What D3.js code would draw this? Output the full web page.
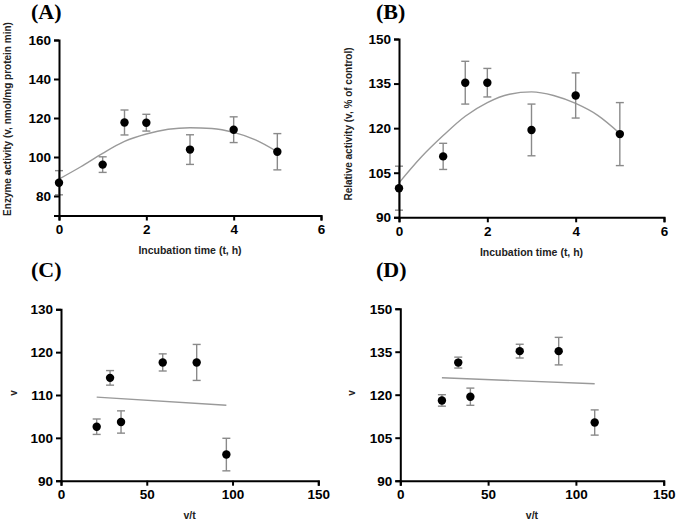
<!DOCTYPE html>
<html><head><meta charset="utf-8">
<script src="https://cdn.jsdelivr.net/npm/d3@7"></script>
<style>
body{margin:0;background:#fff;}
svg{display:block;}
</style></head><body>
<svg id="chart" width="676" height="523"></svg>
<script>
// ---- Data ----
const timeH = [0, 1, 1.5, 2, 3, 4, 5];
const activityA = [86.8, 96.1, 117.7, 117.6, 103.8, 114.0, 102.7];
const errA = [6.2, 4.0, 6.4, 4.3, 7.6, 6.6, 9.3];
const fitTimeA = [0, 0.5, 1, 1.5, 2, 2.5, 3, 3.5, 4, 4.5, 5];
const fitA = [88.7, 95.0, 101.9, 108.0, 111.8, 114.2, 115.0, 114.6, 112.6, 108.8, 102.7];

const relativeB = [99.8, 110.5, 135.3, 135.3, 119.4, 131.0, 118.0];
const errB = [7.4, 4.4, 7.2, 4.8, 8.7, 7.6, 10.6];
const fitTimeB = [0, 0.5, 1, 1.5, 2, 2.5, 3, 3.5, 4, 4.5, 5];
const fitB = [101.6, 110.2, 117.5, 124.0, 128.6, 131.4, 132.2, 131.0, 128.3, 124.3, 118.2];

const vtC = [20.8, 28.6, 35.0, 59.3, 79.1, 96.4];
const vC = [102.6, 114.0, 103.7, 117.6, 117.6, 96.1];
const errC = [1.8, 1.7, 2.6, 2.0, 4.2, 3.8];
const lineC = [[20.8, 109.5], [96.4, 107.6]];

const vtD = [23.7, 33.0, 39.9, 68.0, 90.2, 110.7];
const vD = [118.0, 131.2, 119.3, 135.2, 135.2, 110.3];
const errD = [2.0, 1.9, 3.0, 2.4, 4.8, 4.4];
const lineD = [[23.7, 125.9], [110.7, 123.8]];

const ticksA_y = [80, 100, 120, 140, 160];
const ticksB_y = [90, 105, 120, 135, 150];
const ticksC_y = [90, 100, 110, 120, 130];
const ticksD_y = [90, 105, 120, 135, 150];
const ticksTime = [0, 2, 4, 6];
const ticksVt = [0, 50, 100, 150];

const svg = d3.select("#chart");
const sans = '"Liberation Sans",Arial,sans-serif';

function panel(o) {
  const g = svg.append("g");
  const x = d3.scaleLinear().domain(o.xDomain).range(o.xRange);
  const y = d3.scaleLinear().domain(o.yDomain).range(o.yRange);

  // fit curve / line
  const line = d3.line().x(d => x(d[0])).y(d => y(d[1]))
    .curve(o.fit.length > 2 ? d3.curveMonotoneX : d3.curveLinear);
  g.append("path").datum(o.fit).attr("d", line)
    .attr("fill", "none").attr("stroke", "#9a9a9a").attr("stroke-width", 1.4);

  // error bars
  const eb = g.append("g").attr("stroke", "#8a8a8a").attr("stroke-width", 1.4).attr("fill", "none");
  o.xs.forEach((xv, i) => {
    const cx = x(xv), top = y(o.ys[i] + o.err[i]), bot = y(o.ys[i] - o.err[i]);
    eb.append("line").attr("x1", cx).attr("x2", cx).attr("y1", top).attr("y2", bot);
    eb.append("line").attr("x1", cx - 4).attr("x2", cx + 4).attr("y1", top).attr("y2", top);
    eb.append("line").attr("x1", cx - 4).attr("x2", cx + 4).attr("y1", bot).attr("y2", bot);
  });

  // axes
  const fmt = d3.format("d");
  const xa = g.append("g").attr("transform", `translate(0,${o.yRange[0]})`)
    .call(d3.axisBottom(x).tickValues(o.xTicks).tickFormat(fmt).tickSize(5).tickPadding(4));
  const ya = g.append("g").attr("transform", `translate(${o.xRange[0]},0)`)
    .call(d3.axisLeft(y).tickValues(o.yTicks).tickFormat(fmt).tickSize(5).tickPadding(3));
  [xa, ya].forEach(a => {
    a.attr("font-family", sans).attr("font-size", 13.5).attr("font-weight", "bold");
    a.select(".domain").attr("stroke", "#000").attr("stroke-width", 2);
    a.selectAll(".tick line").attr("stroke", "#000").attr("stroke-width", 2);
    a.selectAll(".tick text").attr("fill", "#000").attr("font-weight", "bold");
  });

  // dots
  g.selectAll("circle.pt").data(o.xs).join("circle").attr("class", "pt")
    .attr("cx", d => x(d)).attr("cy", (d, i) => y(o.ys[i])).attr("r", 4.2).attr("fill", "#000");

  // titles
  g.append("text").attr("x", (o.xRange[0] + o.xRange[1]) / 2).attr("y", o.xTitleY)
    .attr("text-anchor", "middle").attr("font-family", sans).attr("font-weight", "bold")
    .attr("font-size", 10.5).attr("fill", "#222").text(o.xTitle);
  g.append("text").attr("transform", `translate(${o.yTitleX},${o.yTitleCY}) rotate(-90)`)
    .attr("text-anchor", "middle").attr("font-family", sans).attr("font-weight", "bold")
    .attr("font-size", 10).attr("fill", "#222").text(o.yTitle);
  g.append("text").attr("x", o.labelX).attr("y", o.labelY)
    .attr("font-family", '"Liberation Serif","Times New Roman",serif').attr("font-weight", "bold")
    .attr("font-size", 22).attr("fill", "#000").text(o.label);
}

panel({
  xDomain: [0, 6], xRange: [59, 321], yDomain: [70, 160], yRange: [215.5, 40],
  xs: timeH, ys: activityA, err: errA, fit: fitTimeA.map((t, i) => [t, fitA[i]]),
  xTicks: ticksTime, yTicks: ticksA_y,
  xTitle: "Incubation time (t, h)", xTitleY: 254,
  yTitle: "Enzyme activity (v, nmol/mg protein min)", yTitleX: 11, yTitleCY: 119,
  label: "(A)", labelX: 31, labelY: 19
});
panel({
  xDomain: [0, 6], xRange: [399, 664], yDomain: [90, 150], yRange: [217.3, 39],
  xs: timeH, ys: relativeB, err: errB, fit: fitTimeB.map((t, i) => [t, fitB[i]]),
  xTicks: ticksTime, yTicks: ticksB_y,
  xTitle: "Incubation time (t, h)", xTitleY: 256,
  yTitle: "Relative activity (v, % of control)", yTitleX: 352, yTitleCY: 124,
  label: "(B)", labelX: 376, labelY: 19
});
panel({
  xDomain: [0, 150], xRange: [61, 318.3], yDomain: [90, 130], yRange: [480.7, 309.3],
  xs: vtC, ys: vC, err: errC, fit: lineC,
  xTicks: ticksVt, yTicks: ticksC_y,
  xTitle: "v/t", xTitleY: 519,
  yTitle: "v", yTitleX: 17, yTitleCY: 393,
  label: "(C)", labelX: 31, labelY: 277
});
panel({
  xDomain: [0, 150], xRange: [400.3, 663.7], yDomain: [90, 150], yRange: [480.7, 308.7],
  xs: vtD, ys: vD, err: errD, fit: lineD,
  xTicks: ticksVt, yTicks: ticksD_y,
  xTitle: "v/t", xTitleY: 519,
  yTitle: "v", yTitleX: 355, yTitleCY: 393,
  label: "(D)", labelX: 376, labelY: 277
});
</script>
</body></html>
